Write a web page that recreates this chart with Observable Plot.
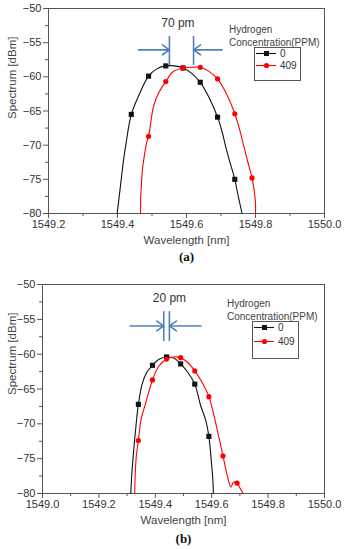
<!DOCTYPE html>
<html>
<head>
<meta charset="utf-8">
<script src="https://cdn.jsdelivr.net/npm/d3@7"></script>
<script src="https://cdn.jsdelivr.net/npm/@observablehq/plot@0.6"></script>
<style>
  body { margin: 0; background: #fff; }
  #page { position: relative; width: 345px; height: 549px; overflow: hidden;
          font-family: "Liberation Sans", Arial, sans-serif; }
  .panel { position: absolute; left: 0; }
  .legend { position: absolute; font-size: 10px; color: #444; line-height: 13px; }
  .legend .ttl { white-space: nowrap; }
  .legend svg { position: absolute; }
</style>
</head>
<body>
<div id="page"></div>
<script>
// ---------- Panel (a): wider spectral shift ----------
const seriesNames = ["0", "409"];
const seriesColors = ["#111111", "#ff0000"];

// traced spectrum, 0 ppm
const a0Wl = [1549.399, 1549.405, 1549.412, 1549.418, 1549.424, 1549.440, 1549.462, 1549.490, 1549.515, 1549.540, 1549.565, 1549.590, 1549.615, 1549.640, 1549.665, 1549.690, 1549.703, 1549.713, 1549.723, 1549.740, 1549.748, 1549.761];
const a0Db = [-80, -77.5, -74.5, -72.0, -70.0, -65.5, -62.7, -59.9, -58.8, -58.4, -58.4, -58.7, -59.5, -60.8, -63.0, -65.9, -68.0, -70.1, -72.0, -75.0, -77.0, -80];
// sampled points, 0 ppm
const a0MkWl = [1549.44, 1549.49, 1549.54, 1549.59, 1549.64, 1549.69, 1549.74];
const a0MkDb = [-65.5, -59.9, -58.4, -58.7, -60.8, -65.9, -75.0];

// traced spectrum, 409 ppm
const a1Wl = [1549.467, 1549.467, 1549.469, 1549.472, 1549.478, 1549.486, 1549.490, 1549.505, 1549.520, 1549.540, 1549.560, 1549.590, 1549.615, 1549.640, 1549.665, 1549.690, 1549.716, 1549.740, 1549.755, 1549.766, 1549.778, 1549.790, 1549.797, 1549.800, 1549.800];
const a1Db = [-80, -78.0, -76.0, -73.7, -71.5, -69.3, -68.7, -64.2, -62.3, -60.7, -59.3, -58.7, -58.6, -58.6, -59.2, -60.3, -62.5, -65.4, -67.9, -70.1, -72.5, -74.8, -77.0, -78.5, -80];
const a1MkWl = [1549.49, 1549.54, 1549.59, 1549.64, 1549.69, 1549.74, 1549.79];
const a1MkDb = [-68.7, -60.7, -58.7, -58.6, -60.3, -65.4, -74.8];

// ---------- Panel (b): narrower spectral shift ----------
const b0Wl = [1549.313, 1549.317, 1549.323, 1549.331, 1549.340, 1549.354, 1549.370, 1549.390, 1549.415, 1549.440, 1549.467, 1549.490, 1549.515, 1549.540, 1549.561, 1549.579, 1549.590, 1549.599, 1549.604, 1549.606];
const b0Db = [-80, -77, -74, -70.5, -67.2, -64.2, -62.6, -61.6, -60.7, -60.4, -60.6, -61.4, -62.6, -64.3, -67.4, -69.5, -71.8, -75.5, -78, -80];
const b0MkWl = [1549.34, 1549.39, 1549.44, 1549.49, 1549.54, 1549.59];
const b0MkDb = [-67.2, -61.6, -60.4, -61.4, -64.3, -71.8];

const b1Wl = [1549.327, 1549.329, 1549.333, 1549.340, 1549.349, 1549.366, 1549.390, 1549.413, 1549.440, 1549.465, 1549.490, 1549.515, 1549.540, 1549.565, 1549.590, 1549.612, 1549.627, 1549.640, 1549.655, 1549.668, 1549.677, 1549.690, 1549.700, 1549.712];
const b1Db = [-80, -77, -74.5, -72.4, -69.5, -67.0, -63.7, -61.7, -60.7, -60.4, -60.5, -61.2, -62.4, -64.0, -66.1, -69.5, -72.2, -74.6, -77.4, -79.1, -78.4, -78.5, -79.2, -80];
const b1MkWl = [1549.34, 1549.39, 1549.44, 1549.49, 1549.54, 1549.59, 1549.64, 1549.69];
const b1MkDb = [-72.4, -63.7, -60.7, -60.5, -62.4, -66.1, -74.6, -78.5];

// axis ticks
const yMajor = [-80, -75, -70, -65, -60, -55, -50];
const yMinor = [-77.5, -72.5, -67.5, -62.5, -57.5, -52.5];
const xMajorA = [1549.2, 1549.4, 1549.6, 1549.8, 1550.0];
const xMinorA = [1549.3, 1549.5, 1549.7, 1549.9];
const xMajorB = [1549.0, 1549.2, 1549.4, 1549.6, 1549.8, 1550.0];
const xMinorB = [1549.1, 1549.3, 1549.5, 1549.7, 1549.9];

// shift annotations: marker lines and label
const shiftA = {left: 1549.5505, right: 1549.6205, label: "70 pm", labelX: 1549.575, from: 1549.461, to: 1549.703};
const shiftB = {left: 1549.43, right: 1549.45, label: "20 pm", labelX: 1549.45, from: 1549.311, to: 1549.562};

const zip = (w, d) => w.map((x, i) => ({wl: x, db: d[i]}));
const fmtX = d => d.toFixed(1);
const blue = "#4f81bd";

function panel({top, height, mTop, mBottom, mLeft, xDomain, xMajor, xMinor, traces, marks, shift, vY, arrowY, labelY, caption, yTitleDy}) {
  const plot = Plot.plot({
    width: 345, height,
    marginTop: mTop, marginBottom: mBottom, marginLeft: mLeft, marginRight: 21,
    x: {domain: xDomain, label: null},
    y: {domain: [-80, -50], label: null},
    style: {fontFamily: '"Liberation Sans", Arial, sans-serif', fontSize: "11px", color: "#333", background: "white"},
    marks: [
      Plot.axisY(yMinor, {tickSize: 3, tickFormat: () => "", stroke: "#555", label: null}),
      Plot.axisY(yMajor, {tickSize: 5, tickPadding: 2, stroke: "#555", label: null}),
      Plot.axisX(xMinor, {tickSize: 3, tickFormat: () => "", stroke: "#555", label: null}),
      Plot.axisX(xMajor, {tickSize: 5, tickPadding: 2, tickFormat: fmtX, stroke: "#555", label: null}),
      Plot.frame({stroke: "#555"}),
      ...traces.map((t, i) => Plot.line(t, {x: "wl", y: "db", stroke: seriesColors[i], strokeWidth: 1.1, curve: "catmull-rom"})),
      Plot.dot(marks[0], {x: "wl", y: "db", symbol: "square", r: 2.9, fill: seriesColors[0]}),
      Plot.dot(marks[1], {x: "wl", y: "db", symbol: "circle", r: 2.6, fill: seriesColors[1]}),
      Plot.ruleX([shift.left, shift.right], {y1: vY[0], y2: vY[1], stroke: blue, strokeWidth: 1.6}),
      Plot.arrow([
        {x1: shift.from, x2: shift.left, y: arrowY},
        {x1: shift.to, x2: shift.right, y: arrowY}
      ], {x1: "x1", x2: "x2", y1: "y", y2: "y", stroke: blue, strokeWidth: 1.6, headLength: 8, headAngle: 70}),
      Plot.text([shift.label], {x: shift.labelX, y: labelY, text: d => d, fontSize: 12, fill: "#333"}),
      Plot.text(["Wavelength [nm]"], {frameAnchor: "bottom", dy: 30, text: d => d, fontSize: 11.5, fill: "#444"}),
      Plot.text(["Spectrum [dBm]"], {frameAnchor: "left", dx: 12 - mLeft, dy: yTitleDy, rotate: -90, text: d => d, fontSize: 11.5, fill: "#444"}),
      Plot.text([caption], {frameAnchor: "bottom", dy: height - mBottom > 0 ? (caption === "(a)" ? 47 : 49) : 0, text: d => d,
        fontSize: 13, fontWeight: "bold", fontFamily: '"Liberation Serif", "Times New Roman", serif', fill: "#111"})
    ]
  });
  plot.classList.add("panel");
  plot.style.top = top + "px";
  return plot;
}

function legend(left, top, rowGap) {
  const div = document.createElement("div");
  div.className = "legend";
  div.style.left = left + "px";
  div.style.top = top + "px";
  div.innerHTML = `<div class="ttl">Hydrogen</div><div class="ttl">Concentration(PPM)</div>`;
  const h = 10 + rowGap * 2;
  const svg = d3.create("svg").attr("width", 48).attr("height", h)
    .style("left", "25px").style("top", "24px");
  svg.append("rect").attr("x", 0.5).attr("y", 0.5).attr("width", 46).attr("height", h - 1)
    .attr("fill", "white").attr("stroke", "#555");
  seriesNames.forEach((name, i) => {
    const y = 6.5 + i * rowGap;
    svg.append("line").attr("x1", 2).attr("x2", 22).attr("y1", y).attr("y2", y)
      .attr("stroke", seriesColors[i]).attr("stroke-width", 1.1);
    if (i === 0) svg.append("rect").attr("x", 10).attr("y", y - 2.5).attr("width", 5).attr("height", 5).attr("fill", seriesColors[i]);
    else svg.append("circle").attr("cx", 12.5).attr("cy", y).attr("r", 2.6).attr("fill", seriesColors[i]);
    svg.append("text").attr("x", 26).attr("y", y + 3.5).attr("font-size", 10)
      .attr("font-family", '"Liberation Sans", Arial, sans-serif').attr("fill", "#333").text(name);
  });
  div.appendChild(svg.node());
  return div;
}

const page = document.getElementById("page");

page.appendChild(panel({
  top: 0, height: 270, mTop: 8, mBottom: 57, mLeft: 48,
  xDomain: [1549.2, 1550.0], xMajor: xMajorA, xMinor: xMinorA,
  traces: [zip(a0Wl, a0Db), zip(a1Wl, a1Db)],
  marks: [zip(a0MkWl, a0MkDb), zip(a1MkWl, a1MkDb)],
  shift: shiftA, vY: [-54.1, -58.35], arrowY: -56.05, labelY: -52.2,
  caption: "(a)", yTitleDy: 8
}));

page.appendChild(panel({
  top: 270, height: 279, mTop: 14, mBottom: 56, mLeft: 42,
  xDomain: [1549.0, 1550.0], xMajor: xMajorB, xMinor: xMinorB,
  traces: [zip(b0Wl, b0Db), zip(b1Wl, b1Db)],
  marks: [zip(b0MkWl, b0MkDb), zip(b1MkWl, b1MkDb)],
  shift: shiftB, vY: [-53.9, -58.2], arrowY: -55.95, labelY: -52.0,
  caption: "(b)", yTitleDy: 6
}));

page.appendChild(legend(229, 23, 12));
page.appendChild(legend(227, 297, 14));
</script>
</body>
</html>
